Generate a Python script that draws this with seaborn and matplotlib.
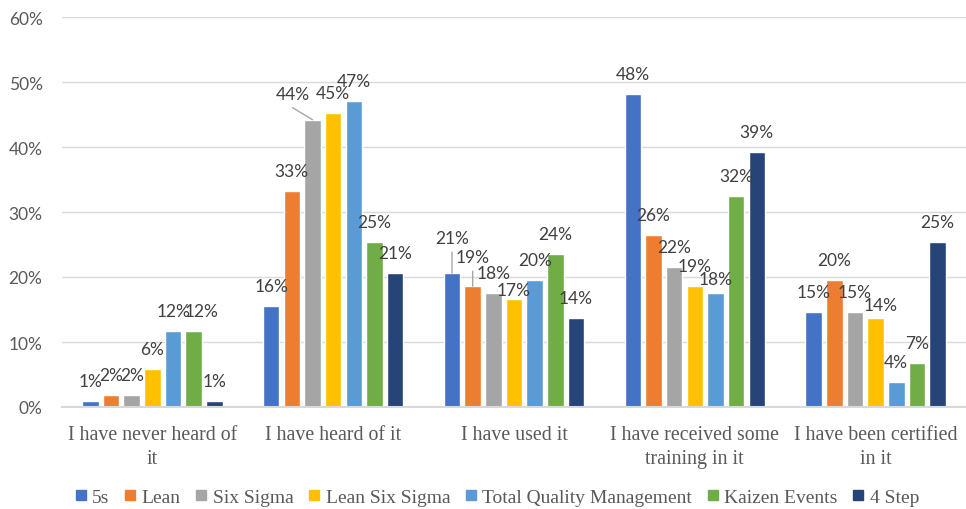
import matplotlib
matplotlib.use("Agg")
import matplotlib.pyplot as plt
from matplotlib.lines import Line2D
from matplotlib.ticker import FuncFormatter, MultipleLocator
import pandas as pd
import seaborn as sns

# Survey responses: share of respondents (%) per familiarity level and method
categories = [
    "I have never heard of\nit",
    "I have heard of it",
    "I have used it",
    "I have received some\ntraining in it",
    "I have been certified\nin it",
]
series = ["5s", "Lean", "Six Sigma", "Lean Six Sigma",
          "Total Quality Management", "Kaizen Events", "4 Step"]
colors = ["#4472C4", "#ED7D31", "#A5A5A5", "#FFC000",
          "#5B9BD5", "#70AD47", "#264478"]

five_s      = [0.9, 15.6, 20.6, 48.2, 14.6]
lean        = [1.9, 33.3, 18.6, 26.4, 19.6]
six_sigma   = [1.9, 44.2, 17.6, 21.6, 14.6]
lean_six    = [5.8, 45.2, 16.6, 18.6, 13.7]
tqm         = [11.7, 47.1, 19.6, 17.6, 3.8]
kaizen      = [11.7, 25.4, 23.6, 32.4, 6.8]
four_step   = [0.9, 20.6, 13.7, 39.2, 25.4]

values = [five_s, lean, six_sigma, lean_six, tqm, kaizen, four_step]

df = pd.DataFrame(
    [(c, s, v) for s, vals in zip(series, values) for c, v in zip(categories, vals)],
    columns=["category", "series", "value"],
)

sns.set_theme(style="white")
plt.rcParams["font.family"] = ["Lato", "DejaVu Sans"]

fig = plt.figure(figsize=(9.66, 5.10), dpi=100)
ax = fig.add_axes([62 / 966, 1 - 408 / 510, 1 - 62 / 966, (408 - 18) / 510])

sns.barplot(data=df, x="category", y="value", hue="series",
            order=categories, hue_order=series, palette=colors,
            width=0.8, gap=0.2, saturation=1, legend=False, ax=ax)

ax.set_xlim(-0.5, len(categories) - 0.5)
ax.set_ylim(0, 60)
ax.yaxis.set_major_locator(MultipleLocator(10))
ax.yaxis.set_major_formatter(FuncFormatter(lambda v, p: f"{v:.0f}%"))
ax.grid(axis="y", color="#D9D9D9", linewidth=1.0)
ax.set_axisbelow(True)
for side in ["left", "right", "top"]:
    ax.spines[side].set_visible(False)
ax.spines["bottom"].set_color("#D9D9D9")
ax.spines["bottom"].set_linewidth(1.5)
ax.tick_params(axis="both", length=0)
ax.tick_params(axis="y", pad=14, labelsize=12.5, labelcolor="#595959")
ax.tick_params(axis="x", pad=13)
ax.set_xlabel("")
ax.set_ylabel("")
ax.set_xticks(range(len(categories)))
ax.set_xticklabels(categories, family=["Liberation Serif"], fontsize=14.3,
                   color="#595959", linespacing=1.35)

# Value labels: default sits 20 px above the bar; a few are nudged to
# avoid overlaps, some with a leader line back to the bar
nudges = {
    (1, 2): (-20, 26, True),
    (2, 0): (0, 35, True),
    (2, 1): (0, 29, True),
    (2, 3): (0, 9, False),
    (3, 4): (0, 14, False),
    (4, 3): (5, 13, False),
    (0, 5): (8, 20, False),
}
for si, cont in enumerate(ax.containers):
    for ci, bar in enumerate(cont):
        v = values[si][ci]
        x = bar.get_x() + bar.get_width() / 2
        dx, dy, line = nudges.get((ci, si), (0, 20, False))
        ax.annotate(f"{v:.0f}%", xy=(x, v), xytext=(dx, dy),
                    textcoords="offset pixels", ha="center", va="center",
                    fontsize=12.5, color="#404040", annotation_clip=False)
        if line:
            ax.annotate("", xy=(x, v), xytext=(dx, dy - 14),
                        textcoords="offset pixels",
                        arrowprops=dict(arrowstyle="-", color="#A6A6A6",
                                        lw=1.0, shrinkA=0, shrinkB=0))

handles = [Line2D([], [], marker="s", linestyle="none", markersize=7.5,
                  markerfacecolor=c, markeredgecolor=c) for c in colors]
fig.legend(handles, series, loc="center", bbox_to_anchor=(0.514, 1 - 498 / 510),
           ncol=len(series), frameon=False, handlelength=0.7,
           handletextpad=0.25, columnspacing=0.7,
           prop={"family": "Liberation Serif", "size": 14},
           labelcolor="#595959")

fig.savefig("out.png", dpi=100)
